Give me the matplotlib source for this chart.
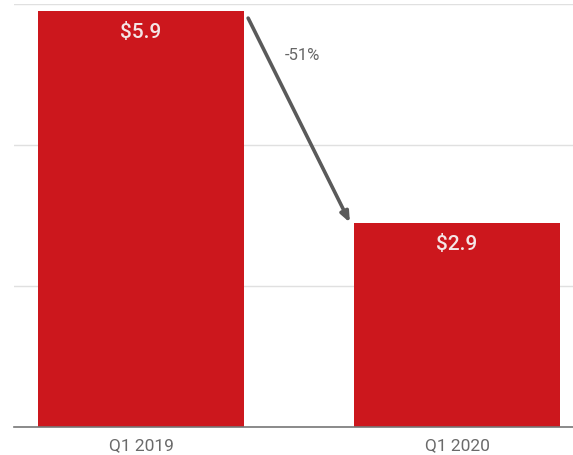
import matplotlib.pyplot as plt
import numpy as np

# data (billions $)
quarters = ["Q1 2019", "Q1 2020"]
values = [5.9, 2.9]
value_labels = ["$5.9", "$2.9"]
change_label = "-51%"
grid_ticks = [0, 2, 4, 6]

plt.rcParams['font.family'] = ['Roboto', 'DejaVu Sans']

fig = plt.figure(figsize=(5.73, 4.55), dpi=100)
ax = fig.add_axes([0.0244, 0.0615, 0.9756, 0.9297])

x = np.arange(len(quarters))
bw = 0.652
ax.bar(x, values, width=bw, color="#cc171d", zorder=3)

ax.set_ylim(0, 6)
ax.set_xlim(-0.402, 1.367)
ax.set_yticks(grid_ticks)
ax.set_yticklabels([])
ax.yaxis.grid(True, color="#e0e0e0", linewidth=1, zorder=0)
ax.tick_params(axis="y", length=0)
ax.set_xticks(x)
ax.set_xticklabels(quarters, fontsize=12.5, color="#6a6a6a")
ax.tick_params(axis="x", length=0, pad=8)

for s in ["top", "right", "left"]:
    ax.spines[s].set_visible(False)
ax.spines["bottom"].set_color("#777777")
ax.spines["bottom"].set_linewidth(1.2)
ax.spines["bottom"].set_zorder(4)

for xi, v, lab in zip(x, values, value_labels):
    ax.text(xi, v - 0.17, lab, ha="center", va="top", fontsize=15,
            color="#f4e6e6", fontweight="medium", zorder=4)

# arrow between the two bars
x0 = x[0] + bw / 2 + 0.013
x1 = x[1] - bw / 2 - 0.013
ax.annotate("", xy=(x1, values[1]), xytext=(x0, values[0] - 0.1),
            arrowprops=dict(arrowstyle="-|>,head_length=0.6,head_width=0.25",
                            color="#5a5a5a", lw=2.6, shrinkA=0, shrinkB=0),
            zorder=5)
ax.text(0.51, 5.27, change_label, ha="center", va="center", fontsize=12,
        color="#666666")

fig.savefig("out.png", dpi=100)
